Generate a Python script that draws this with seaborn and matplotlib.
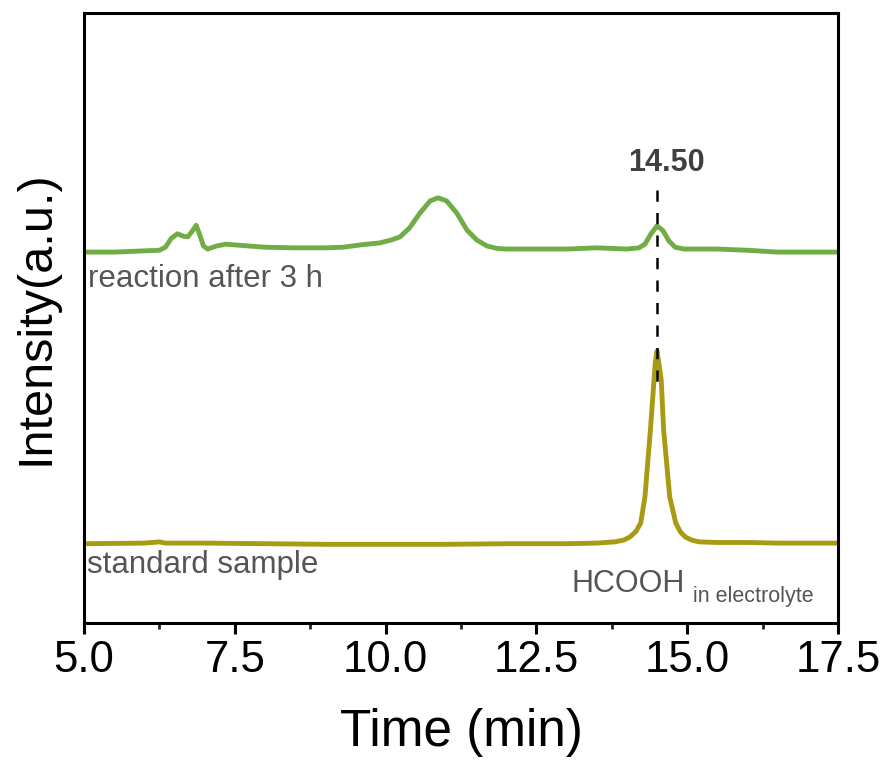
import matplotlib
matplotlib.use("Agg")
import matplotlib.pyplot as plt
import seaborn as sns
import pandas as pd
from matplotlib.ticker import MultipleLocator

# ---- data ----
reaction_time = [5.0, 5.5, 6.0, 6.25, 6.35, 6.45, 6.55, 6.65, 6.72, 6.80, 6.86, 6.92, 6.98,
                 7.05, 7.2, 7.35, 7.6, 8.0, 8.5, 9.0, 9.3, 9.6, 9.9, 10.1, 10.24, 10.40,
                 10.57, 10.74, 10.87, 11.01, 11.18, 11.35, 11.51, 11.68, 11.85, 12.0,
                 12.5, 13.0, 13.5, 14.0, 14.2, 14.3, 14.4, 14.5, 14.6, 14.7, 14.8, 14.95,
                 15.5, 16.0, 16.5, 17.0, 17.5]
reaction_int = [60.8, 60.8, 61.0, 61.1, 61.6, 63.1, 63.8, 63.4, 63.3, 64.3, 65.2, 63.6, 61.8,
                61.3, 61.8, 62.1, 61.9, 61.6, 61.5, 61.5, 61.6, 62.0, 62.3, 62.8, 63.3, 64.8,
                67.2, 69.2, 69.7, 69.2, 67.2, 64.4, 62.8, 61.8, 61.4, 61.3,
                61.3, 61.3, 61.5, 61.3, 61.5, 62.1, 63.8, 65.1, 64.3, 62.6, 61.6, 61.3,
                61.3, 61.1, 60.8, 60.8, 60.8]

standard_time = [5.0, 6.0, 6.25, 6.35, 7.0, 8.0, 9.0, 10.0, 11.0, 12.0, 13.0, 13.5, 13.8,
                 13.95, 14.05, 14.15, 14.23, 14.30, 14.39, 14.45, 14.47, 14.50, 14.53,
                 14.57, 14.61, 14.71, 14.81, 14.89, 14.97, 15.07, 15.2, 15.5, 16.0, 16.5,
                 17.5]
standard_int = [13.0, 13.1, 13.3, 13.1, 13.1, 13.0, 12.9, 12.9, 12.9, 13.0, 13.0, 13.1, 13.3,
                13.6, 14.1, 15.0, 16.4, 20.7, 31.6, 39.8, 42.6, 44.6, 42.6,
                39.8, 31.6, 20.7, 16.4, 14.9, 14.1, 13.6, 13.3, 13.2, 13.2, 13.1,
                13.1]

peak_position = 14.50
peak_label = "14.50"
xticks = [5.0, 7.5, 10.0, 12.5, 15.0, 17.5]

df_r = pd.DataFrame({"Time": reaction_time, "Intensity": reaction_int})
df_s = pd.DataFrame({"Time": standard_time, "Intensity": standard_int})

sns.set_theme(style="ticks")
plt.rcParams["font.family"] = ["Liberation Sans", "DejaVu Sans"]

fig = plt.figure(figsize=(8.86, 7.62), dpi=100)
ax = fig.add_axes([0.0948, 0.1824, 0.8510, 0.8006])

green = "#70AD47"
olive = "#A99A13"
sns.lineplot(data=df_r, x="Time", y="Intensity", ax=ax, color=green, linewidth=3.5,
             solid_joinstyle="round", solid_capstyle="round")
sns.lineplot(data=df_s, x="Time", y="Intensity", ax=ax, color=olive, linewidth=3.5,
             solid_joinstyle="round", solid_capstyle="round")

ax.plot([peak_position, peak_position], [71.0, 37.9], color="black", lw=1.8,
        dashes=(4.5, 4.5), zorder=5)

ax.set_xlim(5.0, 17.5)
ax.set_ylim(0, 100)
ax.set_xticks(xticks)
ax.set_xticklabels([f"{v:.1f}" for v in xticks])
ax.xaxis.set_minor_locator(MultipleLocator(1.25))
ax.set_yticks([])

for s in ax.spines.values():
    s.set_linewidth(2.2)
    s.set_color("black")
    s.set_visible(True)
ax.tick_params(axis="x", which="major", direction="out", length=8, width=2.2,
               labelsize=31.5, pad=4, colors="black")
ax.tick_params(axis="x", which="minor", direction="out", length=4.3, width=2.0)

ax.set_xlabel("Time (min)", fontsize=37, labelpad=20, color="black")
ax.set_ylabel("Intensity(a.u.)", fontsize=35, labelpad=18, color="black")

txt = "#555555"
ax.text(5.07, 55.1, "reaction after 3 h", fontsize=22.5, color=txt, ha="left", va="baseline")
ax.text(5.05, 8.15, "standard sample", fontsize=22.5, color=txt, ha="left", va="baseline")
ax.text(13.09, 5.1, "HCOOH", fontsize=22, color=txt, ha="left", va="baseline")
ax.text(15.10, 3.5, "in electrolyte", fontsize=15.5, color=txt, ha="left", va="baseline")
ax.text(14.65, 75.4, peak_label, fontsize=22, fontweight="bold", color="#404040",
        ha="center", va="center")

fig.savefig("out.png", dpi=100)
